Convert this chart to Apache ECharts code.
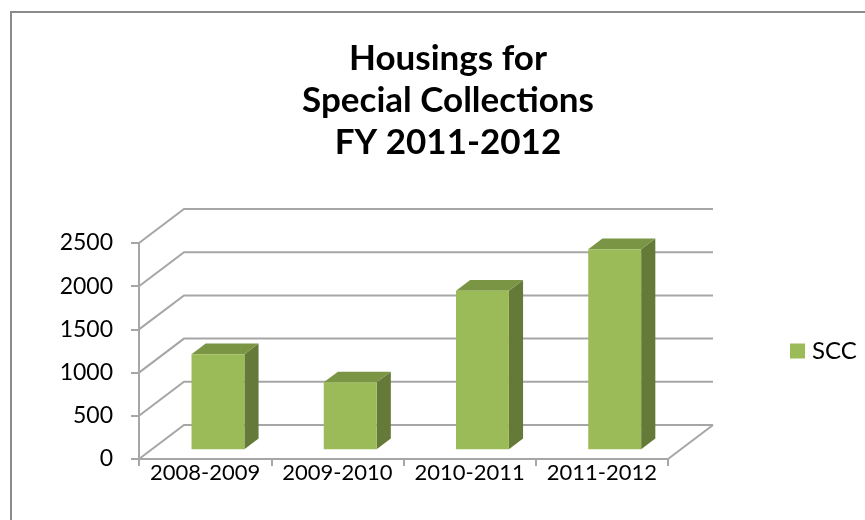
<!DOCTYPE html>
<html>
<head>
<meta charset="utf-8">
<script src="https://cdn.jsdelivr.net/npm/echarts@6/dist/echarts.min.js"></script>
<style>
  html, body { margin: 0; padding: 0; background: #fff; }
  #chart { width: 865px; height: 520px; }
</style>
</head>
<body>
<div id="chart"></div>
<script>
// Fiscal years and housings counts for Special Collections
const categories = ['2008-2009', '2009-2010', '2010-2011', '2011-2012'];
const sccValues = [1100, 775, 1835, 2315];
const yTicks = [0, 500, 1000, 1500, 2000, 2500];
const seriesName = 'SCC';

// 3D look: back wall offset from the front plane
const DEPTH_X = 45;
const DEPTH_Y = -34;
const BAR_FRONT = 0.285;   // fraction of depth where bar front face sits
const BAR_BACK = 0.6;      // fraction of depth where bar back face sits
const FRONT = '#9bbb59';
const TOP = '#7a9644';
const SIDE = '#657a38';
const GRID = '#a6a6a6';
const FONT = 'Lato, "Noto Sans", sans-serif';

const chart = echarts.init(document.getElementById('chart'), null, { renderer: 'canvas' });

function renderWall(params, api) {
  const v = api.value(1);
  const band = api.size([1, 0])[0];
  const p0 = api.coord([0, v]);
  const p1 = api.coord([categories.length - 1, v]);
  const left = p0[0] - band / 2;
  const right = p1[0] + band / 2;
  const y = p0[1];
  const children = [{
    type: 'polyline',
    shape: { points: [[left, y], [left + DEPTH_X, y + DEPTH_Y], [right + DEPTH_X, y + DEPTH_Y]] },
    style: { stroke: GRID, lineWidth: 2, fill: null }
  }];
  if (v === 0) {
    children.push({
      type: 'line',
      shape: { x1: right, y1: y, x2: right + DEPTH_X, y2: y + DEPTH_Y },
      style: { stroke: GRID, lineWidth: 2 }
    });
  }
  return { type: 'group', children };
}

function renderBar(params, api) {
  const i = api.value(0);
  const v = api.value(1);
  const base = api.coord([i, 0]);
  const top = api.coord([i, v]);
  const band = api.size([1, 0])[0];
  const w = band * 0.4;
  const fx = DEPTH_X * BAR_FRONT, fy = DEPTH_Y * BAR_FRONT;
  const ddx = DEPTH_X * (BAR_BACK - BAR_FRONT), ddy = DEPTH_Y * (BAR_BACK - BAR_FRONT);
  const L = base[0] - w / 2 + fx, R = L + w;
  const B = base[1] + fy, T = top[1] + fy;
  return {
    type: 'group',
    children: [
      { type: 'polygon', shape: { points: [[R, T], [R + ddx, T + ddy], [R + ddx, B + ddy], [R, B]] }, style: { fill: SIDE } },
      { type: 'polygon', shape: { points: [[L, T], [R, T], [R + ddx, T + ddy], [L + ddx, T + ddy]] }, style: { fill: TOP } },
      { type: 'rect', shape: { x: L, y: T, width: w, height: B - T }, style: { fill: FRONT } }
    ]
  };
}

chart.setOption({
  animation: false,
  backgroundColor: '#ffffff',
  graphic: [{
    type: 'rect',
    shape: { x: 11, y: 12, width: 1000, height: 1000 },
    style: { fill: null, stroke: '#8a8a8a', lineWidth: 2 },
    silent: true
  }],
  title: {
    text: 'Housings for\nSpecial Collections\nFY 2011-2012',
    left: 443,
    top: 33,
    textAlign: 'center',
    textStyle: { fontFamily: FONT, fontWeight: 'bold', fontSize: 35, lineHeight: 42, color: '#000' }
  },
  legend: {
    data: [seriesName],
    orient: 'vertical',
    left: 790,
    top: 339,
    padding: 0,
    icon: 'rect',
    itemWidth: 15,
    itemHeight: 15,
    itemGap: 6,
    textStyle: { fontFamily: FONT, fontSize: 24, color: '#000', padding: [0, 0, 0, 2] }
  },
  grid: { left: 139, top: 243, width: 529, height: 216, containLabel: false },
  xAxis: {
    type: 'category',
    data: categories,
    axisLine: { show: true, lineStyle: { color: GRID, width: 2 } },
    axisTick: { show: true, length: 7, lineStyle: { color: GRID, width: 2 } },
    axisLabel: { fontFamily: FONT, fontSize: 22, color: '#000', margin: 3, interval: 0 },
    splitLine: { show: false }
  },
  yAxis: {
    type: 'value',
    min: 0,
    max: 2500,
    interval: 500,
    axisLine: { show: true, lineStyle: { color: GRID, width: 2 } },
    axisTick: { show: true, length: 8, lineStyle: { color: GRID, width: 2 } },
    axisLabel: { fontFamily: FONT, fontSize: 23, color: '#000', margin: 26, formatter: v => String(v) },
    splitLine: { show: false }
  },
  series: [
    {
      name: 'walls',
      type: 'custom',
      renderItem: renderWall,
      data: yTicks.map(v => [0, v]),
      encode: { x: 0, y: 1 },
      z: 1,
      silent: true
    },
    {
      name: seriesName,
      type: 'custom',
      renderItem: renderBar,
      data: sccValues.map((v, i) => [i, v]),
      encode: { x: 0, y: 1 },
      itemStyle: { color: FRONT },
      z: 3
    }
  ]
});
</script>
</body>
</html>
